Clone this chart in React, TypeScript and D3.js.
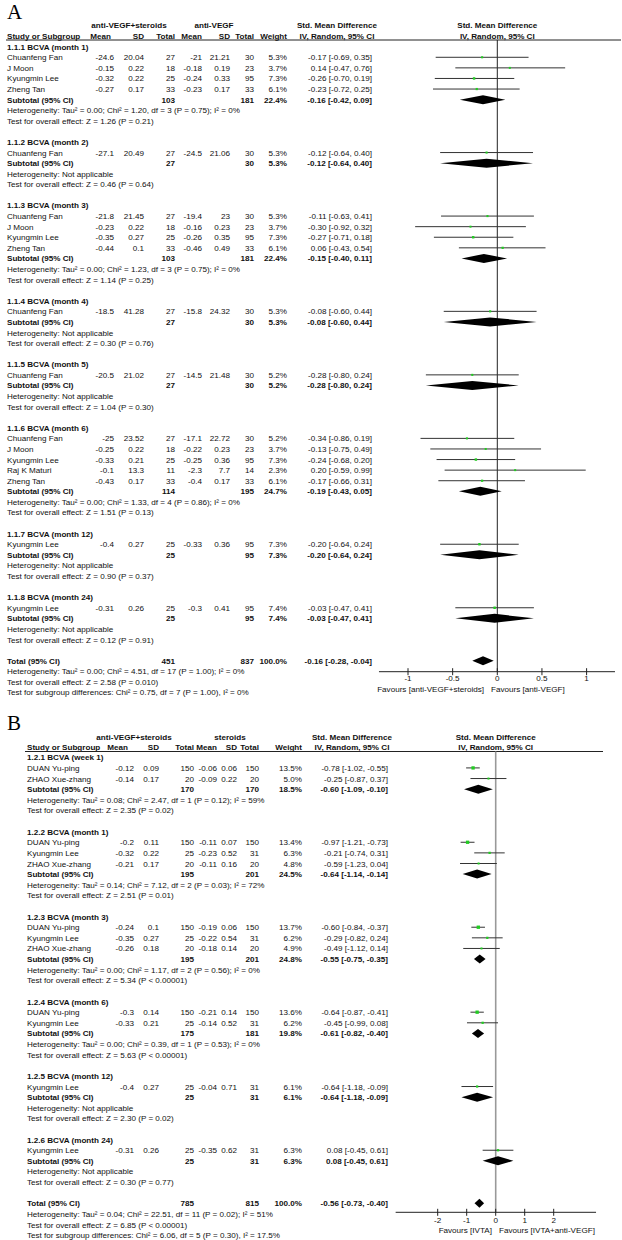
import React from "react";
import * as d3 from "d3";

const FONT = "'Liberation Sans', Arial, Helvetica, sans-serif";

// ---------------- Panel A data ----------------
const A_GROUPS = [
  "1.1.1 BCVA (month 1)",
  "1.1.2 BCVA (month 2)",
  "1.1.3 BCVA (month 3)",
  "1.1.4 BCVA (month 4)",
  "1.1.5 BCVA (month 5)",
  "1.1.6 BCVA (month 6)",
  "1.1.7 BCVA (month 12)",
  "1.1.8 BCVA (month 24)",
];
// [group, study, mean1, sd1, n1, mean2, sd2, n2, weight, smd, lo, hi]
const A_STUDIES: [number, string, number, number, number, number, number, number, number, number, number, number][] = [
  [0, "Chuanfeng Fan", -24.6, 20.04, 27, -21, 21.21, 30, 5.3, -0.17, -0.69, 0.35],
  [0, "J Moon", -0.15, 0.22, 18, -0.18, 0.19, 23, 3.7, 0.14, -0.47, 0.76],
  [0, "Kyungmin Lee", -0.32, 0.22, 25, -0.24, 0.33, 95, 7.3, -0.26, -0.7, 0.19],
  [0, "Zheng Tan", -0.27, 0.17, 33, -0.23, 0.17, 33, 6.1, -0.23, -0.72, 0.25],
  [1, "Chuanfeng Fan", -27.1, 20.49, 27, -24.5, 21.06, 30, 5.3, -0.12, -0.64, 0.4],
  [2, "Chuanfeng Fan", -21.8, 21.45, 27, -19.4, 23, 30, 5.3, -0.11, -0.63, 0.41],
  [2, "J Moon", -0.23, 0.22, 18, -0.16, 0.23, 23, 3.7, -0.3, -0.92, 0.32],
  [2, "Kyungmin Lee", -0.35, 0.27, 25, -0.26, 0.35, 95, 7.3, -0.27, -0.71, 0.18],
  [2, "Zheng Tan", -0.44, 0.1, 33, -0.46, 0.49, 33, 6.1, 0.06, -0.43, 0.54],
  [3, "Chuanfeng Fan", -18.5, 41.28, 27, -15.8, 24.32, 30, 5.3, -0.08, -0.6, 0.44],
  [4, "Chuanfeng Fan", -20.5, 21.02, 27, -14.5, 21.48, 30, 5.2, -0.28, -0.8, 0.24],
  [5, "Chuanfeng Fan", -25, 23.52, 27, -17.1, 22.72, 30, 5.2, -0.34, -0.86, 0.19],
  [5, "J Moon", -0.25, 0.22, 18, -0.22, 0.23, 23, 3.7, -0.13, -0.75, 0.49],
  [5, "Kyungmin Lee", -0.33, 0.21, 25, -0.25, 0.36, 95, 7.3, -0.24, -0.68, 0.2],
  [5, "Raj K Maturi", -0.1, 13.3, 11, -2.3, 7.7, 14, 2.3, 0.2, -0.59, 0.99],
  [5, "Zheng Tan", -0.43, 0.17, 33, -0.4, 0.17, 33, 6.1, -0.17, -0.66, 0.31],
  [6, "Kyungmin Lee", -0.4, 0.27, 25, -0.33, 0.36, 95, 7.3, -0.2, -0.64, 0.24],
  [7, "Kyungmin Lee", -0.31, 0.26, 25, -0.3, 0.41, 95, 7.4, -0.03, -0.47, 0.41],
];
// [n1, n2, weight, smd, lo, hi]
const A_SUBTOTALS: [number, number, number, number, number, number][] = [
  [103, 181, 22.4, -0.16, -0.42, 0.09],
  [27, 30, 5.3, -0.12, -0.64, 0.4],
  [103, 181, 22.4, -0.15, -0.4, 0.11],
  [27, 30, 5.3, -0.08, -0.6, 0.44],
  [27, 30, 5.2, -0.28, -0.8, 0.24],
  [114, 195, 24.7, -0.19, -0.43, 0.05],
  [25, 95, 7.3, -0.2, -0.64, 0.24],
  [25, 95, 7.4, -0.03, -0.47, 0.41],
];
const A_HET = [
  "Tau² = 0.00; Chi² = 1.20, df = 3 (P = 0.75); I² = 0%",
  "Not applicable",
  "Tau² = 0.00; Chi² = 1.23, df = 3 (P = 0.75); I² = 0%",
  "Not applicable",
  "Not applicable",
  "Tau² = 0.00; Chi² = 1.33, df = 4 (P = 0.86); I² = 0%",
  "Not applicable",
  "Not applicable",
];
const A_Z = [
  "Z = 1.26 (P = 0.21)",
  "Z = 0.46 (P = 0.64)",
  "Z = 1.14 (P = 0.25)",
  "Z = 0.30 (P = 0.76)",
  "Z = 1.04 (P = 0.30)",
  "Z = 1.51 (P = 0.13)",
  "Z = 0.90 (P = 0.37)",
  "Z = 0.12 (P = 0.91)",
];
const A_TOTAL: [number, number, number, number, number, number] = [451, 837, 100.0, -0.16, -0.28, -0.04];
const A_NOTES = [
  "Heterogeneity: Tau² = 0.00; Chi² = 4.51, df = 17 (P = 1.00); I² = 0%",
  "Test for overall effect: Z = 2.58 (P = 0.010)",
  "Test for subgroup differences: Chi² = 0.75, df = 7 (P = 1.00), I² = 0%",
];
const A_TICKS = [-1, -0.5, 0, 0.5, 1];
const A_ARMS = ["anti-VEGF+steroids", "anti-VEGF"];
const A_FAVOURS = ["Favours [anti-VEGF+steroids]", "Favours [anti-VEGF]"];

// ---------------- Panel B data ----------------
const B_GROUPS = [
  "1.2.1 BCVA (week 1)",
  "1.2.2 BCVA (month 1)",
  "1.2.3 BCVA (month 3)",
  "1.2.4 BCVA (month 6)",
  "1.2.5 BCVA (month 12)",
  "1.2.6 BCVA (month 24)",
];
const B_STUDIES: [number, string, number, number, number, number, number, number, number, number, number, number][] = [
  [0, "DUAN Yu-ping", -0.12, 0.09, 150, -0.06, 0.06, 150, 13.5, -0.78, -1.02, -0.55],
  [0, "ZHAO Xue-zhang", -0.14, 0.17, 20, -0.09, 0.22, 20, 5.0, -0.25, -0.87, 0.37],
  [1, "DUAN Yu-ping", -0.2, 0.11, 150, -0.11, 0.07, 150, 13.4, -0.97, -1.21, -0.73],
  [1, "Kyungmin Lee", -0.32, 0.22, 25, -0.23, 0.52, 31, 6.3, -0.21, -0.74, 0.31],
  [1, "ZHAO Xue-zhang", -0.21, 0.17, 20, -0.11, 0.16, 20, 4.8, -0.59, -1.23, 0.04],
  [2, "DUAN Yu-ping", -0.24, 0.1, 150, -0.19, 0.06, 150, 13.7, -0.6, -0.84, -0.37],
  [2, "Kyungmin Lee", -0.35, 0.27, 25, -0.22, 0.54, 31, 6.2, -0.29, -0.82, 0.24],
  [2, "ZHAO Xue-zhang", -0.26, 0.18, 20, -0.18, 0.14, 20, 4.9, -0.49, -1.12, 0.14],
  [3, "DUAN Yu-ping", -0.3, 0.14, 150, -0.21, 0.14, 150, 13.6, -0.64, -0.87, -0.41],
  [3, "Kyungmin Lee", -0.33, 0.21, 25, -0.14, 0.52, 31, 6.2, -0.45, -0.99, 0.08],
  [4, "Kyungmin Lee", -0.4, 0.27, 25, -0.04, 0.71, 31, 6.1, -0.64, -1.18, -0.09],
  [5, "Kyungmin Lee", -0.31, 0.26, 25, -0.35, 0.62, 31, 6.3, 0.08, -0.45, 0.61],
];
const B_SUBTOTALS: [number, number, number, number, number, number][] = [
  [170, 170, 18.5, -0.6, -1.09, -0.1],
  [195, 201, 24.5, -0.64, -1.14, -0.14],
  [195, 201, 24.8, -0.55, -0.75, -0.35],
  [175, 181, 19.8, -0.61, -0.82, -0.4],
  [25, 31, 6.1, -0.64, -1.18, -0.09],
  [25, 31, 6.3, 0.08, -0.45, 0.61],
];
const B_HET = [
  "Tau² = 0.08; Chi² = 2.47, df = 1 (P = 0.12); I² = 59%",
  "Tau² = 0.14; Chi² = 7.12, df = 2 (P = 0.03); I² = 72%",
  "Tau² = 0.00; Chi² = 1.17, df = 2 (P = 0.56); I² = 0%",
  "Tau² = 0.00; Chi² = 0.39, df = 1 (P = 0.53); I² = 0%",
  "Not applicable",
  "Not applicable",
];
const B_Z = [
  "Z = 2.35 (P = 0.02)",
  "Z = 2.51 (P = 0.01)",
  "Z = 5.34 (P < 0.00001)",
  "Z = 5.63 (P < 0.00001)",
  "Z = 2.30 (P = 0.02)",
  "Z = 0.30 (P = 0.77)",
];
const B_TOTAL: [number, number, number, number, number, number] = [785, 815, 100.0, -0.56, -0.73, -0.4];
const B_NOTES = [
  "Heterogeneity: Tau² = 0.04; Chi² = 22.51, df = 11 (P = 0.02); I² = 51%",
  "Test for overall effect: Z = 6.85 (P < 0.00001)",
  "Test for subgroup differences: Chi² = 6.06, df = 5 (P = 0.30), I² = 17.5%",
];
const B_TICKS = [-2, -1, 0, 1, 2];
const B_ARMS = ["anti-VEGF+steroids", "steroids"];
const B_FAVOURS = ["Favours [IVTA]", "Favours [IVTA+anti-VEGF]"];

// ---------------- helpers ----------------
type Study = [number, string, number, number, number, number, number, number, number, number, number, number];
type Sub = [number, number, number, number, number, number];

type Row =
  | { kind: "group"; label: string }
  | { kind: "study"; s: Study }
  | { kind: "subtotal"; s: Sub }
  | { kind: "text"; label: string }
  | { kind: "blank" }
  | { kind: "total"; s: Sub };

function buildRows(groups: string[], studies: Study[], subs: Sub[], het: string[], z: string[], total: Sub, notes: string[]): Row[] {
  const rows: Row[] = [];
  groups.forEach((g, gi) => {
    rows.push({ kind: "group", label: g });
    studies.filter((s) => s[0] === gi).forEach((s) => rows.push({ kind: "study", s }));
    rows.push({ kind: "subtotal", s: subs[gi] });
    rows.push({ kind: "text", label: "Heterogeneity: " + het[gi] });
    rows.push({ kind: "text", label: "Test for overall effect: " + z[gi] });
    rows.push({ kind: "blank" });
  });
  rows.push({ kind: "total", s: total });
  notes.forEach((n) => rows.push({ kind: "text", label: n }));
  return rows;
}

const f2 = (v: number) => v.toFixed(2);
const ciText = (m: number, lo: number, hi: number) => `${f2(m)} [${f2(lo)}, ${f2(hi)}]`;

type Cfg = {
  letter: string;
  letterY: number;
  armY: number;
  arm1X: number;
  arm2X: number;
  headY: number;
  lineY: number;
  lineX1: number;
  lineX2: number;
  nameX: number;
  cols: number[];
  meanHeadShift: number;
  ciRight: number;
  ciHeadX: number;
  rowStart: number;
  rowH: number;
  x0: number;
  unit: number;
  axisExt: [number, number];
  axisY: number;
  tickLabY: number;
  favY: number;
  favLeftEnd: number;
  favRightStart: number;
  zeroColor: string;
  zeroWidth: number;
};

const FS = 8.1;

function Panel({ cfg, rows, ticks, arms, favours }: { cfg: Cfg; rows: Row[]; ticks: number[]; arms: string[]; favours: string[] }) {
  const x = d3.scaleLinear().domain([-1, 1]).range([cfg.x0 - cfg.unit, cfg.x0 + cfg.unit]);
  const y = d3.scaleLinear().domain([0, 1]).range([cfg.rowStart, cfg.rowStart + cfg.rowH]);
  const tx = (v: number) => 3; // baseline offset
  const c = cfg.cols;
  const diamond = (m: number, lo: number, hi: number, yc: number, h: number) =>
    d3.line()([
      [x(lo), yc],
      [x(m), yc - h],
      [x(hi), yc],
      [x(m), yc + h],
    ]) + "Z";

  const headers = ["Mean", "SD", "Total", "Mean", "SD", "Total", "Weight"];
  const els: React.ReactNode[] = [];

  rows.forEach((r, i) => {
    const yc = y(i);
    const yb = yc + tx(0);
    if (r.kind === "group") {
      els.push(
        <text key={"g" + i} x={cfg.nameX} y={yb} fontWeight="bold">
          {r.label}
        </text>
      );
    } else if (r.kind === "text") {
      els.push(
        <text key={"t" + i} x={cfg.nameX} y={yb}>
          {r.label}
        </text>
      );
    } else if (r.kind === "study") {
      const s = r.s;
      const vals = [String(s[2]), String(s[3]), String(s[4]), String(s[5]), String(s[6]), String(s[7]), s[8].toFixed(1) + "%"];
      els.push(
        <g key={"s" + i}>
          <text x={cfg.nameX} y={yb}>{s[1]}</text>
          {vals.map((v, k) => (
            <text key={k} x={c[k]} y={yb} textAnchor="end">{v}</text>
          ))}
          <text x={cfg.ciRight} y={yb} textAnchor="end">{ciText(s[9], s[10], s[11])}</text>
          <line x1={x(s[10])} x2={x(s[11])} y1={yc} y2={yc} stroke="#333" strokeWidth={1} />
          {(() => {
            const sz = Math.max(2, 0.9 * Math.sqrt(s[8]));
            return <rect x={x(s[9]) - sz / 2} y={yc - sz / 2} width={sz} height={sz} fill="#22cc22" />;
          })()}
        </g>
      );
    } else if (r.kind === "subtotal" || r.kind === "total") {
      const s = r.s;
      els.push(
        <g key={"st" + i} fontWeight="bold">
          <text x={cfg.nameX} y={yb}>{r.kind === "total" ? "Total (95% CI)" : "Subtotal (95% CI)"}</text>
          <text x={c[2]} y={yb} textAnchor="end">{String(s[0])}</text>
          <text x={c[5]} y={yb} textAnchor="end">{String(s[1])}</text>
          <text x={c[6]} y={yb} textAnchor="end">{s[2].toFixed(1) + "%"}</text>
          <text x={cfg.ciRight} y={yb} textAnchor="end">{ciText(s[3], s[4], s[5])}</text>
          <path d={diamond(s[3], s[4], s[5], yc, 4.5)} fill="#000" />
        </g>
      );
    }
  });

  return (
    <g fontFamily={FONT} fontSize={FS} fill="#111">
      <text x={7} y={cfg.letterY} fontFamily="'Liberation Serif', 'Times New Roman', serif" fontSize={21} fill="#000">
        {cfg.letter}
      </text>
      <text x={cfg.arm1X} y={cfg.armY} textAnchor="middle" fontWeight="bold">{arms[0]}</text>
      <text x={cfg.arm2X} y={cfg.armY} textAnchor="middle" fontWeight="bold">{arms[1]}</text>
      <text x={cfg.ciHeadX} y={cfg.armY} textAnchor="middle" fontWeight="bold">Std. Mean Difference</text>
      <text x={cfg.ciHeadX} y={cfg.headY} textAnchor="middle" fontWeight="bold">IV, Random, 95% CI</text>
      <text x={cfg.x0} y={cfg.armY} textAnchor="middle" fontWeight="bold">Std. Mean Difference</text>
      <text x={cfg.x0} y={cfg.headY} textAnchor="middle" fontWeight="bold">IV, Random, 95% CI</text>
      <text x={cfg.nameX} y={cfg.headY} fontWeight="bold">Study or Subgroup</text>
      {headers.map((h, k) => (
        <text key={k} x={c[k] + (k === 0 ? cfg.meanHeadShift : 0)} y={cfg.headY} textAnchor="end" fontWeight="bold">
          {h}
        </text>
      ))}
      <line x1={cfg.lineX1} x2={cfg.lineX2} y1={cfg.lineY} y2={cfg.lineY} stroke="#222" strokeWidth={1} />
      <line x1={x(0)} x2={x(0)} y1={cfg.lineY} y2={cfg.axisY} stroke={cfg.zeroColor} strokeWidth={cfg.zeroWidth} />
      {els}
      <line x1={x(cfg.axisExt[0])} x2={x(cfg.axisExt[1])} y1={cfg.axisY} y2={cfg.axisY} stroke="#222" strokeWidth={1} />
      {ticks.map((t) => (
        <g key={t}>
          <line x1={x(t)} x2={x(t)} y1={cfg.axisY - 3.5} y2={cfg.axisY + 3.5} stroke="#222" strokeWidth={1} />
          <text x={x(t)} y={cfg.tickLabY} textAnchor="middle">{String(t)}</text>
        </g>
      ))}
      <text x={cfg.favLeftEnd} y={cfg.favY} textAnchor="end">{favours[0]}</text>
      <text x={cfg.favRightStart} y={cfg.favY}>{favours[1]}</text>
    </g>
  );
}

const CFG_A: Cfg = {
  letter: "A",
  letterY: 19,
  armY: 28,
  arm1X: 129,
  arm2X: 214,
  headY: 38.5,
  lineY: 40,
  lineX1: 6,
  lineX2: 621,
  nameX: 7,
  cols: [114, 144, 175, 202, 230, 254, 287],
  meanHeadShift: -3,
  ciRight: 372,
  ciHeadX: 337,
  rowStart: 46.7,
  rowH: 10.586,
  x0: 497.3,
  unit: 89.3,
  axisExt: [-1.325, 1.318],
  axisY: 671.7,
  tickLabY: 681,
  favY: 692,
  favLeftEnd: 484,
  favRightStart: 491,
  zeroColor: "#222",
  zeroWidth: 1,
};

const CFG_B: Cfg = {
  letter: "B",
  letterY: 730,
  armY: 739.5,
  arm1X: 134,
  arm2X: 230,
  headY: 750,
  lineY: 751.5,
  lineX1: 25,
  lineX2: 603,
  nameX: 27,
  cols: [134, 159, 194, 217, 237, 259, 302],
  meanHeadShift: -6,
  ciRight: 388,
  ciHeadX: 352,
  rowStart: 757.3,
  rowH: 10.62,
  x0: 495.7,
  unit: 29,
  axisExt: [-3.45, 3.46],
  axisY: 1212.3,
  tickLabY: 1222.5,
  favY: 1232.7,
  favLeftEnd: 492,
  favRightStart: 499,
  zeroColor: "#999",
  zeroWidth: 1.6,
};

export default function App() {
  const rowsA = buildRows(A_GROUPS, A_STUDIES, A_SUBTOTALS, A_HET, A_Z, A_TOTAL, A_NOTES);
  const rowsB = buildRows(B_GROUPS, B_STUDIES, B_SUBTOTALS, B_HET, B_Z, B_TOTAL, B_NOTES);
  return (
    <svg
      width={622}
      height={1240}
      viewBox="0 0 622 1240"
      style={{ position: "absolute", left: 0, top: 0, background: "#fff" }}
    >
      <rect width={622} height={1240} fill="#fff" />
      <Panel cfg={CFG_A} rows={rowsA} ticks={A_TICKS} arms={A_ARMS} favours={A_FAVOURS} />
      <Panel cfg={CFG_B} rows={rowsB} ticks={B_TICKS} arms={B_ARMS} favours={B_FAVOURS} />
    </svg>
  );
}
